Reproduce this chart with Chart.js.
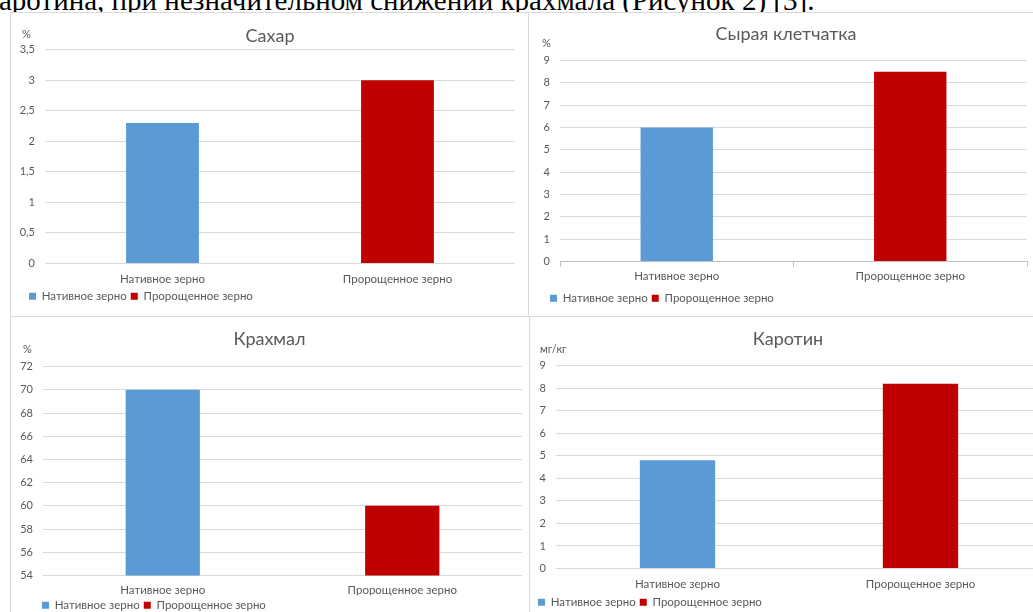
<!DOCTYPE html>
<html lang="ru">
<head>
<meta charset="utf-8">
<script src="https://cdn.jsdelivr.net/npm/chart.js@4.4.0/dist/chart.umd.min.js"></script>
<style>
  html, body { margin: 0; padding: 0; background: #fff; }
  body { position: relative; width: 1033px; height: 612px; overflow: hidden; }
  .lead {
    position: absolute; left: -1px; top: -12px;
    font-family: "Liberation Serif", "Times New Roman", serif;
    font-size: 29px; line-height: 24px; white-space: nowrap; color: #000;
  }
  .panel { position: absolute; border: 1px solid #d9d9d9; background: #fff; }
  .panel canvas { display: block; }
</style>
</head>
<body>
<div class="lead">аротина, при незначительном снижении крахмала (Рисунок 2) [3].</div>

<div class="panel" style="left:10px; top:12px;"><canvas id="sugar" width="518" height="304"></canvas></div>
<div class="panel" style="left:528px; top:12px;"><canvas id="fiber" width="515" height="305"></canvas></div>
<div class="panel" style="left:10px; top:316px;"><canvas id="starch" width="519" height="306"></canvas></div>
<div class="panel" style="left:529px; top:316px;"><canvas id="carotene" width="518" height="305"></canvas></div>

<script>
// categories shared by all four charts
const categories = ['Нативное зерно', 'Пророщенное зерно'];

// measured values per indicator: [native, sprouted]
const sugarValues = [2.3, 3.0];
const fiberValues = [6.0, 8.5];
const starchValues = [70, 60];
const caroteneValues = [4.8, 8.2];

// y axis ranges: [min, max, step]
const sugarAxis = [0, 3.5, 0.5];
const fiberAxis = [0, 9, 1];
const starchAxis = [54, 72, 2];
const caroteneAxis = [0, 9, 1];

const BLUE = '#5b9bd5';
const RED = '#c00000';
const TEXT = '#595959';
const GRID = '#d9d9d9';
const FONT = 'Lato, "Liberation Sans", sans-serif';

// small unit caption ("%", "мг/кг") above the value axis
const unitLabel = {
  id: 'unitLabel',
  afterDraw(chart, args, opts) {
    const { ctx, chartArea } = chart;
    ctx.save();
    ctx.font = '11px ' + FONT;
    ctx.fillStyle = TEXT;
    ctx.textAlign = 'left';
    ctx.textBaseline = 'middle';
    ctx.fillText(opts.text, chartArea.left + opts.dx, chartArea.top + opts.dy);
    ctx.restore();
  }
};

// nudge title and legend sideways without touching the plot area
const boxShift = {
  id: 'boxShift',
  afterLayout(chart, args, opts) {
    if (chart.titleBlock) {
      chart.titleBlock.left += opts.title;
      chart.titleBlock.right += opts.title;
    }
    if (chart.legend) {
      chart.legend.left += opts.legend;
      chart.legend.right += opts.legend;
    }
  }
};

function makeChart(id, title, unit, values, axis, lay) {
  return new Chart(document.getElementById(id), {
    type: 'bar',
    data: {
      labels: categories,
      datasets: [
        { label: categories[0], data: [values[0], null], backgroundColor: BLUE },
        { label: categories[1], data: [null, values[1]], backgroundColor: RED }
      ]
    },
    options: {
      responsive: false,
      animation: false,
      layout: { padding: { left: 0, right: lay.padR, top: 0, bottom: lay.padB } },
      datasets: { bar: { skipNull: true, barPercentage: 0.31, categoryPercentage: 1 } },
      scales: {
        x: {
          grid: lay.xTicks
            ? { display: true, drawOnChartArea: false, drawTicks: true, tickLength: 5, color: '#bfbfbf' }
            : { display: false, drawTicks: false },
          border: { display: !!lay.xTicks, color: '#bfbfbf' },
          ticks: { color: TEXT, font: { family: FONT, size: 11.5 }, padding: lay.xPad },
          afterFit: s => { s.height = lay.xH; }
        },
        y: {
          min: axis[0],
          max: axis[1],
          grid: { color: GRID, drawTicks: false },
          border: { display: false },
          ticks: {
            stepSize: axis[2],
            color: TEXT,
            font: { family: FONT, size: 11 },
            padding: 10,
            callback: v => String(v).replace('.', ',')
          },
          afterFit: s => { s.width = lay.yW; }
        }
      },
      plugins: {
        title: {
          display: true,
          text: title,
          color: TEXT,
          font: { family: FONT, size: 18, weight: 'normal' },
          padding: { top: lay.tTop, bottom: lay.tBot }
        },
        legend: {
          position: 'bottom',
          align: 'start',
          labels: { boxWidth: 7, boxHeight: 7, padding: 4, color: TEXT, font: { family: FONT, size: 11.5 } }
        },
        tooltip: { enabled: false },
        unitLabel: { text: unit, dx: lay.uX, dy: lay.uY },
        boxShift: { title: lay.tDx, legend: lay.lDx }
      }
    },
    plugins: [unitLabel, boxShift]
  });
}

makeChart('sugar', 'Сахар', '%', sugarValues, sugarAxis,
  { padR: 14, padB: 5, yW: 34, xH: 23, xPad: 9, tTop: 12, tBot: 3, uX: -23, uY: -15, tDx: 7, lDx: 14 });
makeChart('fiber', 'Сырая клетчатка', '%', fiberValues, fiberAxis,
  { padR: 17, padB: 4, yW: 31, xH: 27, xPad: 3, xTicks: true, tTop: 10, tBot: 16, uX: -18, uY: -17, tDx: 8, lDx: 17 });
makeChart('starch', 'Крахмал', '%', starchValues, starchAxis,
  { padR: 8, padB: 2, yW: 32, xH: 20, xPad: 8, tTop: 11, tBot: 17, uX: -20, uY: -17, tDx: 3, lDx: 27 });
makeChart('carotene', 'Каротин', 'мг/кг', caroteneValues, caroteneAxis,
  { padR: 6, padB: 4, yW: 26, xH: 24, xPad: 9, tTop: 11, tBot: 16, uX: -16, uY: -16, tDx: 2, lDx: 4 });
</script>
</body>
</html>
